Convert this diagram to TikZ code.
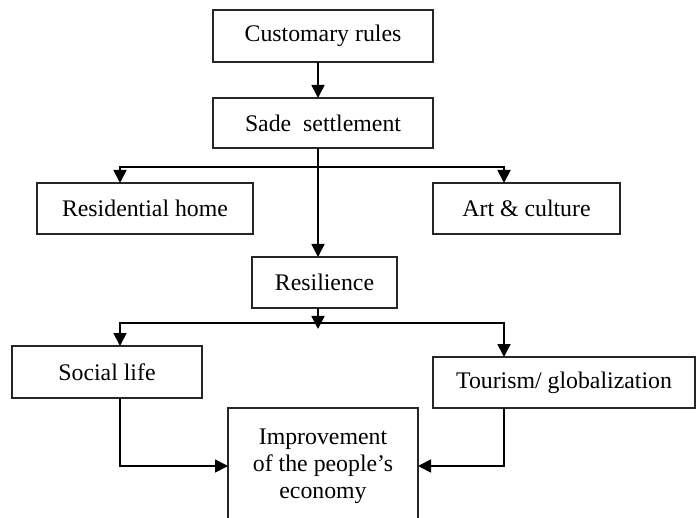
\documentclass[tikz,border=0pt]{standalone}
\usepackage{fontspec}
\setmainfont{Liberation Serif}
\usetikzlibrary{arrows.meta,calc}
\begin{document}
\begin{tikzpicture}[x=0.5pt,y=-0.5pt,
  box/.style={draw=black!85, line width=0.9pt, inner sep=0pt, outer sep=0pt,
    font=\fontsize{11.9}{13.5}\selectfont, align=center},
  conn/.style={draw=black, line width=0.9pt},
  tip/.tip={Triangle[length=6.5pt,width=6.5pt]},
  arr/.style={conn,-tip},
  arrs/.style={conn,tip-tip},
]
\useasboundingbox (0,0) rectangle (696,518);
\clip (0,0) rectangle (696,518);
\fill[white] (0,0) rectangle (696,518);

\coordinate (spine) at (318,0);
\coordinate (bl) at (120,167);
\coordinate (br) at (504,167);
\coordinate (rtip) at (318,329);
\coordinate (cl) at (120,323);
\coordinate (cr) at (504,323);

\node[box, minimum width=110pt, minimum height=26pt] (cust) at (323,36) {Customary rules};
\node[box, minimum width=110pt, minimum height=25pt] (sade) at (323,123) {Sade\ \ settlement};
\node[box, minimum width=108pt, minimum height=25.5pt] (home) at (145,208.5) {Residential home};
\node[box, minimum width=93.5pt, minimum height=25.5pt] (art) at (526.5,208.5) {Art \& culture};
\node[box, minimum width=72.5pt, minimum height=25.5pt] (resil) at (324.5,282.5) {Resilience};
\node[box, minimum width=95pt, minimum height=26pt] (social) at (107,372) {Social life};
\node[box, minimum width=131pt, minimum height=25.5pt] (tour) at (564,382.5) {Tourism/ globalization};
\node[box, minimum width=95pt, minimum height=58pt] (impr) at (323,466) {Improvement\\of the people’s\\economy};

\draw[arr] (cust.south -| spine) -- (sade.north -| spine);
\draw[arr] (sade.south -| spine) -- (resil.north -| spine);
\draw[arrs] (bl |- home.north) -- (bl) -- (br) -- (br |- art.north);
\draw[arr] (resil.south -| rtip) -- (rtip);
\draw[arrs] (cl |- social.north) -- (cl) -- (cr) -- (cr |- tour.north);
\draw[arr] (social.south -| cl) -- (cl |- impr.west) -- (impr.west);
\draw[arr] (tour.south -| cr) -- (cr |- impr.east) -- (impr.east);
\end{tikzpicture}
\end{document}
